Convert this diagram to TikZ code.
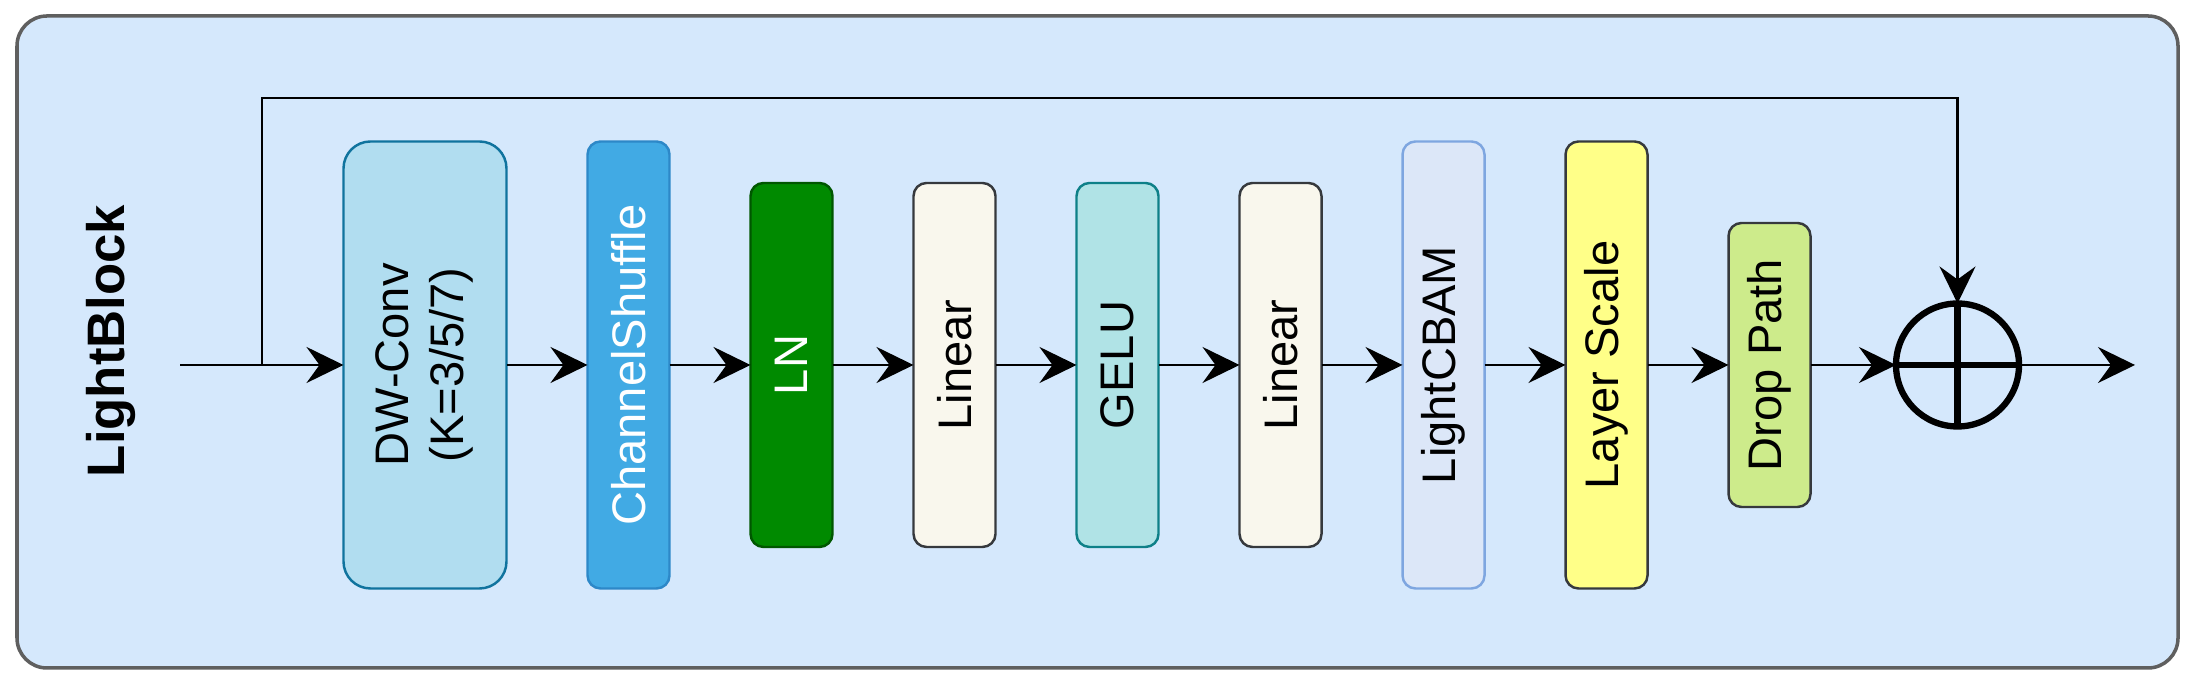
\documentclass[tikz,border=0pt]{standalone}
\usepackage{fontspec}
\setmainfont{Liberation Sans}
\usepackage{graphicx}
\usetikzlibrary{positioning,arrows.meta}

\definecolor{bgblue}{HTML}{D5E8FC}
\definecolor{framegray}{HTML}{5F5F5F}
\definecolor{dwfill}{HTML}{B1DDF0}
\definecolor{dwdraw}{HTML}{10739E}
\definecolor{csfill}{HTML}{41AAE4}
\definecolor{csdraw}{HTML}{2D88C8}
\definecolor{lnfill}{HTML}{008A00}
\definecolor{lndraw}{HTML}{005700}
\definecolor{linfill}{HTML}{F9F7ED}
\definecolor{darkline}{HTML}{36393D}
\definecolor{gelufill}{HTML}{B0E3E6}
\definecolor{geludraw}{HTML}{0E8088}
\definecolor{cbamfill}{HTML}{DCE7F8}
\definecolor{cbamdraw}{HTML}{7EA6E0}
\definecolor{lsfill}{HTML}{FFFF88}
\definecolor{dpfill}{HTML}{CDEB8B}

\begin{document}
\begin{tikzpicture}[>={Stealth[length=3.7mm,width=3.6mm,inset=1.3mm]}]
  \tikzstyle{block} = [rectangle, draw, line width=0.7pt, rounded corners=0.13cm, minimum width=0.82cm,
                                    inner sep=0pt, outer sep=0pt, text centered, font=\fontsize{13.4}{15.6}\selectfont]
  \tikzstyle{tall} = [block, minimum height=4.47cm]
  \tikzstyle{mid} = [block, minimum height=3.64cm]
\useasboundingbox (0,0) rectangle (21.94,6.82);
\draw[fill=bgblue, draw=framegray, line width=1pt, rounded corners=0.3cm] (0.17,0.14) rectangle (21.78,6.66);
\node[rotate=90, font=\bfseries\fontsize{15}{18}\selectfont](title) at (1.11,3.41){LightBlock};
\coordinate (in) at (1.80,3.17);
\coordinate (split) at (2.62,3.17);
\coordinate (out) at (21.35,3.17);
\node[tall, minimum width=1.63cm, rounded corners=0.27cm, fill=dwfill, draw=dwdraw, anchor=west](dwconv) at (3.435,3.17)
  {\rotatebox{90}{\begin{tabular}{@{}c@{}}DW-Conv\\(K=3/5/7)\end{tabular}}};
\node[tall, fill=csfill, draw=csdraw, text=white, right=0.81cm of dwconv](shuffle){\rotatebox{90}{ChannelShuffle}};
\node[mid, fill=lnfill, draw=lndraw, text=white, right=0.81cm of shuffle](ln){\rotatebox{90}{LN}};
\node[mid, fill=linfill, draw=darkline, right=0.81cm of ln](lin1){\rotatebox{90}{Linear}};
\node[mid, fill=gelufill, draw=geludraw, right=0.81cm of lin1](gelu){\rotatebox{90}{GELU}};
\node[mid, fill=linfill, draw=darkline, right=0.81cm of gelu](lin2){\rotatebox{90}{Linear}};
\node[tall, fill=cbamfill, draw=cbamdraw, right=0.81cm of lin2](cbam){\rotatebox{90}{LightCBAM}};
\node[tall, fill=lsfill, draw=darkline, right=0.81cm of cbam](lscale){\rotatebox{90}{Layer Scale}};
\node[block, minimum height=2.84cm, fill=dpfill, draw=darkline, right=0.81cm of lscale](droppath){\rotatebox{90}{Drop Path}};
\node[circle, draw, line width=1.8pt, minimum size=1.23cm, inner sep=0pt, outer sep=0pt, right=0.855cm of droppath](add){};
\draw[line width=1.8pt] (add.north) -- (add.south) (add.west) -- (add.east);
% main path
\draw[->, thick] (in) -- (dwconv);
\draw[->, thick] (dwconv) -- (shuffle);
\draw[->, thick] (shuffle) -- (ln);
\draw[->, thick] (ln) -- (lin1);
\draw[->, thick] (lin1) -- (gelu);
\draw[->, thick] (gelu) -- (lin2);
\draw[->, thick] (lin2) -- (cbam);
\draw[->, thick] (cbam) -- (lscale);
\draw[->, thick] (lscale) -- (droppath);
\draw[->, thick] (droppath) -- (add);
\draw[->, thick] (add) -- (out);
% shortcut
\draw[->, thick] (split) -- ++(0,2.67) -| (add.north);
\end{tikzpicture}
\end{document}
